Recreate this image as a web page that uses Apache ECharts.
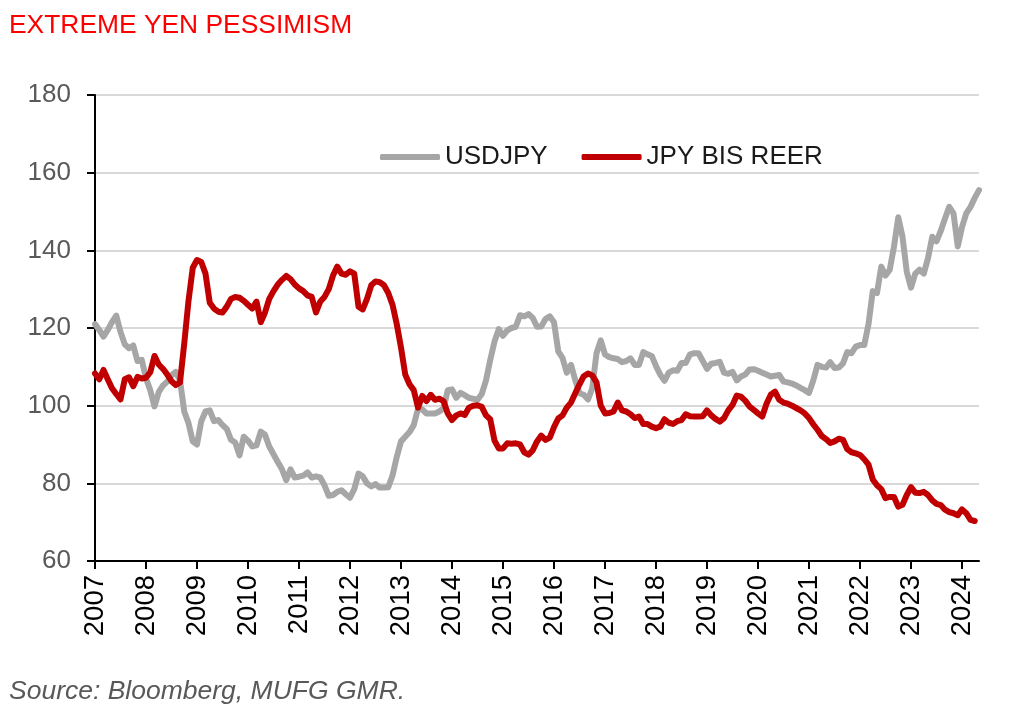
<!DOCTYPE html>
<html>
<head>
<meta charset="utf-8">
<script src="https://cdn.jsdelivr.net/npm/echarts@6/dist/echarts.min.js"></script>
<style>
html,body{margin:0;padding:0;background:#ffffff;}
#chart{width:1022px;height:721px;}
</style>
</head>
<body>
<div id="chart"></div>
<script>
// ---- data (monthly, starting Jan 2007) ----
const startYear = 2007;
const yearTicks = [2007,2008,2009,2010,2011,2012,2013,2014,2015,2016,2017,2018,2019,2020,2021,2022,2023,2024];
const yTicks = [60,80,100,120,140,160,180];
const seriesNames = ['USDJPY','JPY BIS REER'];

const usdjpy = [
  // 2007
  121.0,119.5,117.8,119.5,121.5,123.2,119.0,115.8,114.8,115.5,111.5,111.8,
  // 2008
  107.0,104.0,99.8,103.5,105.2,106.2,107.8,108.7,106.5,98.5,95.5,90.8,
  // 2009
  90.0,96.0,98.5,98.8,96.0,96.3,95.0,94.0,91.2,90.5,87.2,92.0,
  // 2010
  91.0,89.5,89.8,93.3,92.5,89.5,87.5,85.5,83.6,80.8,83.6,81.5,
  // 2011
  81.7,82.0,82.8,81.5,81.8,81.5,79.5,76.8,77.0,77.8,78.2,77.2,
  // 2012
  76.3,78.5,82.5,81.8,80.0,79.2,79.8,78.9,78.9,79.0,82.0,86.8,
  // 2013
  90.8,92.0,93.2,95.0,99.2,99.0,98.0,98.0,98.0,98.5,99.3,104.0,
  // 2014
  104.2,102.0,103.3,102.7,102.0,101.8,101.5,103.0,106.5,111.8,116.5,119.7,
  // 2015
  118.0,119.4,120.0,120.3,123.3,123.0,123.6,122.6,120.3,120.4,122.3,123.0,
  // 2016
  121.5,114.0,112.3,108.5,110.5,106.6,103.2,102.8,101.6,104.5,113.5,116.8,
  // 2017
  113.2,112.5,112.2,112.0,111.2,111.5,112.2,110.5,110.5,113.8,113.2,112.8,
  // 2018
  110.2,108.0,106.4,108.5,109.1,109.0,111.0,111.0,113.2,113.5,113.5,111.5,
  // 2019
  109.5,110.8,111.0,111.3,108.5,108.2,108.7,106.5,107.5,108.0,109.3,109.4,
  // 2020
  109.0,108.5,108.0,107.5,107.7,107.9,106.2,106.0,105.7,105.2,104.6,104.0,
  // 2021
  103.3,106.5,110.5,110.0,109.8,111.2,109.7,109.8,110.9,113.8,113.5,115.2,
  // 2022
  115.6,115.6,121.0,129.5,129.0,135.8,133.5,135.0,141.0,148.5,143.5,134.5,
  // 2023
  130.4,134.0,135.0,134.0,138.0,143.5,142.3,145.0,148.2,151.2,149.5,141.0,
  // 2024
  146.0,149.5,151.2,153.5,155.5
];

const jpyReer = [
  // 2007
  108.3,106.8,109.2,106.8,104.5,103.0,101.6,106.8,107.3,105.0,107.4,107.0,
  // 2008
  107.2,108.6,112.8,110.6,109.5,108.0,106.3,105.3,106.0,116.0,127.0,135.5,
  // 2009
  137.5,137.0,134.0,126.5,125.0,124.2,124.0,125.5,127.5,128.0,127.8,127.0,
  // 2010
  126.0,125.0,126.8,121.5,124.0,127.5,129.5,131.2,132.4,133.4,132.6,131.2,
  // 2011
  130.2,129.5,128.4,128.0,124.0,126.8,128.0,130.0,133.5,135.8,134.0,133.7,
  // 2012
  134.6,134.0,125.5,124.8,127.5,131.0,132.0,131.8,131.0,129.0,126.0,121.0,
  // 2013
  115.0,108.0,105.5,104.0,99.5,102.5,101.2,102.8,101.5,101.8,101.2,98.0,
  // 2014
  96.3,97.5,98.0,97.6,99.5,100.0,100.1,99.7,97.5,96.5,91.0,89.0,
  // 2015
  89.0,90.3,90.2,90.3,90.0,88.0,87.4,88.5,90.8,92.3,91.2,91.8,
  // 2016
  94.5,96.7,97.5,99.5,100.8,103.2,105.5,107.6,108.3,107.8,106.0,100.0,
  // 2017
  98.0,98.1,98.5,100.8,98.8,98.5,97.8,96.8,97.2,95.3,95.3,94.6,
  // 2018
  94.2,94.6,96.5,95.6,95.3,96.0,96.3,97.8,97.3,97.2,97.2,97.3,
  // 2019
  98.8,97.5,96.6,95.9,96.8,98.8,100.2,102.6,102.3,101.3,99.8,98.9,
  // 2020
  98.0,97.2,100.5,102.8,103.6,101.5,100.8,100.5,100.0,99.4,98.8,98.0,
  // 2021
  96.8,95.2,93.8,92.2,91.4,90.4,90.8,91.5,91.2,88.8,88.0,87.7,
  // 2022
  87.3,86.2,84.8,81.0,79.5,78.5,76.2,76.5,76.5,74.0,74.5,77.0,
  // 2023
  79.0,77.6,77.5,77.8,77.0,75.6,74.7,74.4,73.2,72.6,72.3,71.8,
  // 2024
  73.3,72.3,70.6,70.3
];

const toPoints = arr => arr.map((v, i) => [startYear + i / 12, v]);
const xMax = startYear + (usdjpy.length - 1) / 12;
const FONT = "'Liberation Sans', Arial, sans-serif";

const chart = echarts.init(document.getElementById('chart'), null, {renderer: 'canvas'});
chart.setOption({
  animation: false,
  backgroundColor: '#ffffff',
  title: [
    {
      text: 'EXTREME YEN PESSIMISM',
      left: 9, top: 13, padding: 0,
      textStyle: {color: '#ff0000', fontSize: 26.4, fontWeight: 'normal', fontFamily: FONT}
    },
    {
      text: 'Source: Bloomberg, MUFG GMR.',
      left: 9, top: 678, padding: 0,
      textStyle: {color: '#595959', fontSize: 26.5, fontWeight: 'normal', fontStyle: 'italic', fontFamily: FONT}
    }
  ],
  legend: {
    data: seriesNames,
    left: 380, top: 144,
    padding: 0,
    itemGap: 34,
    itemWidth: 60,
    itemHeight: 6,
    icon: 'roundRect',
    textStyle: {color: '#1a1a1a', fontSize: 26, fontFamily: FONT}
  },
  grid: {left: 95, right: 43, top: 95, bottom: 160, containLabel: false},
  xAxis: {
    type: 'value',
    min: startYear,
    max: xMax,
    interval: 1,
    axisLine: {show: true, lineStyle: {color: '#000000', width: 2}},
    axisTick: {show: true, inside: false, length: 8, lineStyle: {color: '#000000', width: 2}, customValues: yearTicks},
    axisLabel: {
      customValues: yearTicks,
      rotate: 90,
      margin: 14,
      color: '#000000',
      fontSize: 27.5,
      fontFamily: FONT,
      formatter: v => String(Math.round(v))
    },
    splitLine: {show: false}
  },
  yAxis: {
    type: 'value',
    min: 60, max: 180, interval: 20,
    axisLine: {show: true, lineStyle: {color: '#000000', width: 2}},
    axisTick: {show: true, inside: false, length: 8, lineStyle: {color: '#000000', width: 2}},
    axisLabel: {color: '#595959', fontSize: 26, fontFamily: FONT, margin: 24},
    splitLine: {show: true, lineStyle: {color: '#d9d9d9', width: 2}}
  },
  series: [
    {
      name: seriesNames[0], type: 'line', data: toPoints(usdjpy),
      showSymbol: false, symbol: 'none', smooth: false,
      itemStyle: {color: '#a6a6a6'},
      lineStyle: {color: '#a6a6a6', width: 6, cap: 'round', join: 'round'},
      z: 2
    },
    {
      name: seriesNames[1], type: 'line', data: toPoints(jpyReer),
      showSymbol: false, symbol: 'none', smooth: false,
      itemStyle: {color: '#c00000'},
      lineStyle: {color: '#c00000', width: 6, cap: 'round', join: 'round'},
      z: 3
    }
  ]
});
</script>
</body>
</html>
